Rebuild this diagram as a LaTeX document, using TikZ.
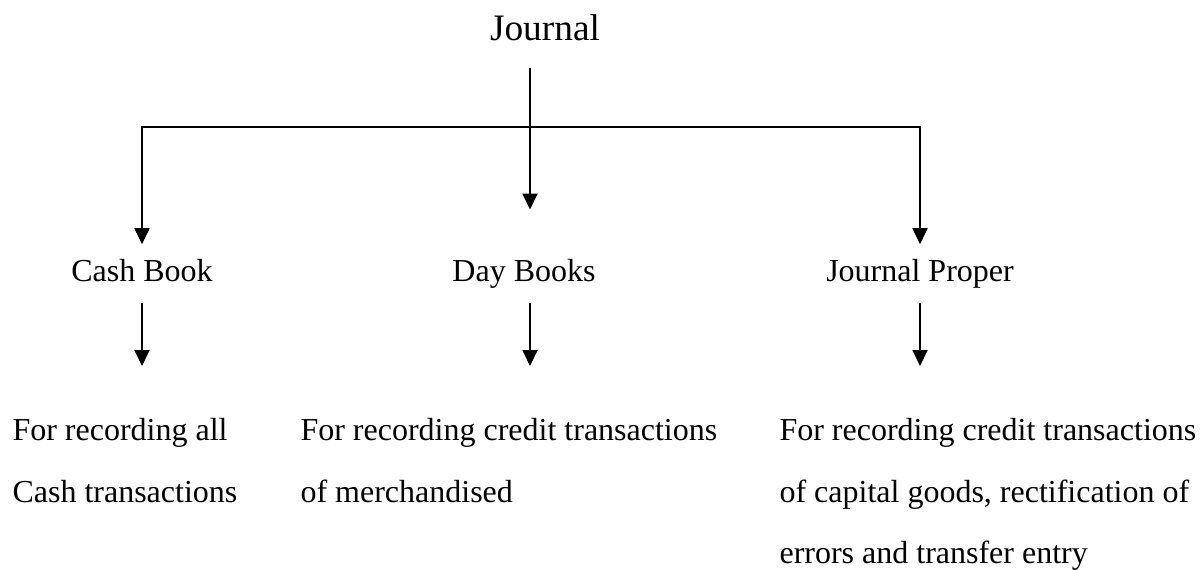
\documentclass[tikz,border=0pt]{standalone}
\usepackage{fontspec}
\setmainfont{Liberation Serif}
\usepackage{tikz}
\usetikzlibrary{arrows.meta,positioning,calc}
\definecolor{ink}{RGB}{0,0,0}
\tikzset{
  head/.style={font=\fontsize{14}{17}\selectfont,inner sep=10pt,anchor=base},
  book/.style={font=\fontsize{12}{14}\selectfont,inner sep=5.4pt,anchor=base,
    text height=8.2pt,text depth=2.6pt},
  note/.style={font=\fontsize{12}{23.1}\selectfont,inner sep=0pt,align=left,anchor=north west},
  arr/.style={-{Triangle[length=6pt,width=5.6pt]},line width=0.75pt,ink},
}

\begin{document}
\begin{tikzpicture}[x=0.375pt,y=-0.375pt]
\useasboundingbox (0,0) rectangle (1201,569);
% top
\node[head] (journal) at (545,40) {Journal};
\coordinate (hub) at (530,127);
% books
\node[book] (cash) at (142,281) {Cash Book};
\node[book] (day) at (524,281) {Day Books};
\node[book] (proper) at (920,281) {Journal Proper};
\coordinate (dayfoot) at (day.south -| hub);
% notes
\node[note] (cashnote) at (12,418) {For recording all\\Cash transactions};
\node[note] (daynote) at (300,418) {For recording credit transactions\\of merchandised};
\node[note] (propernote) at (779,418) {For recording credit transactions\\of capital goods, rectification of\\errors and transfer entry};
% connectors
\draw[arr,shorten >=13pt] (journal.south -| hub) -- (day.north -| hub);
\draw[arr] (hub) -| (cash.north);
\draw[arr] (hub) -| (proper.north);
\draw[arr,shorten >=19.5pt] (cash.south) -- (cash.south |- cashnote.north);
\draw[arr,shorten >=19.5pt] (dayfoot) -- (dayfoot |- daynote.north);
\draw[arr,shorten >=19.5pt] (proper.south) -- (proper.south |- propernote.north);
\end{tikzpicture}
\end{document}
